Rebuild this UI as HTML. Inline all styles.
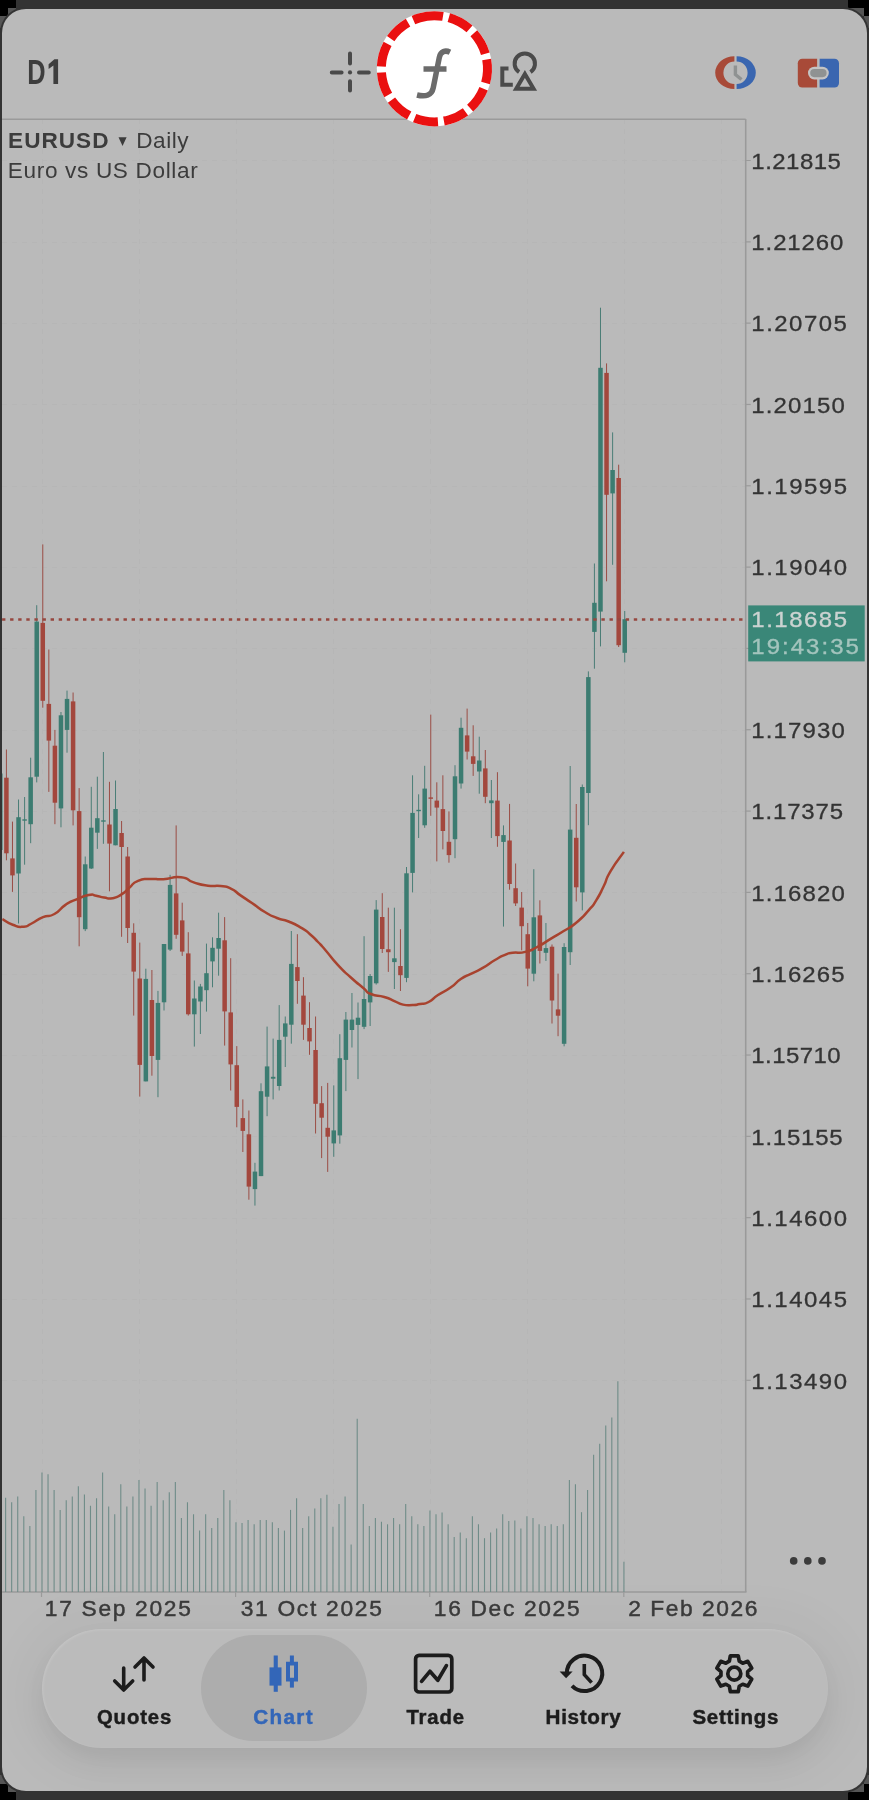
<!DOCTYPE html>
<html><head><meta charset="utf-8"><title>Chart</title>
<style>
html,body{margin:0;padding:0;background:#000;}
body{width:869px;height:1800px;position:relative;overflow:hidden;font-family:"Liberation Sans",sans-serif;}
.frame{position:absolute;left:0;top:0;width:869px;height:1800px;background:#333;}
.k{position:absolute;background:#000;}
.g{position:absolute;background:#555;}
.screen{position:absolute;left:2.1px;top:8.8px;width:864.7px;height:1781.8px;background:#bababa;border-radius:24px;overflow:hidden;box-shadow:0 0 0 2px #333;}
.tabbar{position:absolute;left:39.9px;top:1620.2px;width:786px;height:119px;border-radius:60px;background:#bbbbbb;box-shadow:0 14px 28px -2px rgba(0,0,0,0.08),0 6px 50px 22px rgba(0,0,0,0.03),inset 1px 1px 3px rgba(255,255,255,0.15);}
.pill{position:absolute;left:198.9px;top:1626.2px;width:166px;height:106px;border-radius:53px;background:#adadad;}
svg{position:absolute;left:0;top:0;will-change:transform;}
text{font-family:"Liberation Sans",sans-serif;}
</style></head><body>
<div class="frame"></div>
<div class="k" style="left:0;top:0;width:16px;height:8px"></div><div class="k" style="left:0;top:8px;width:8px;height:8px"></div>
<div class="g" style="left:8px;top:8px;width:8px;height:8px"></div><div class="g" style="left:0;top:16px;width:7px;height:12px"></div>
<div class="k" style="left:848px;top:0;width:21px;height:8px"></div><div class="k" style="left:864px;top:8px;width:5px;height:8px"></div>
<div class="g" style="left:848px;top:8px;width:16px;height:8px"></div><div class="g" style="left:864px;top:16px;width:5px;height:12px"></div>
<div class="k" style="left:0;top:1792px;width:16px;height:8px"></div><div class="k" style="left:0;top:1784px;width:8px;height:8px"></div>
<div class="g" style="left:8px;top:1784px;width:8px;height:8px"></div><div class="g" style="left:0;top:1775px;width:7px;height:9px"></div>
<div class="k" style="left:848px;top:1792px;width:21px;height:8px"></div><div class="k" style="left:864px;top:1784px;width:5px;height:8px"></div>
<div class="g" style="left:848px;top:1784px;width:16px;height:8px"></div><div class="g" style="left:864px;top:1775px;width:5px;height:9px"></div>
<div class="screen"><div class="tabbar"></div><div class="pill"></div></div>
<svg width="869" height="1800" viewBox="0 0 869 1800">

<defs><clipPath id="scr"><rect x="2.1" y="8.8" width="864.7" height="1781.8" rx="24"/></clipPath>
<clipPath id="plot"><rect x="2" y="119" width="744" height="1473"/></clipPath></defs>
<g clip-path="url(#scr)">
<g stroke="#b6b6b6" stroke-width="1" stroke-dasharray="5 5" fill="none">
<path d="M2 160.5 H745"/>
<path d="M2 242.5 H745"/>
<path d="M2 323.5 H745"/>
<path d="M2 404.5 H745"/>
<path d="M2 486.5 H745"/>
<path d="M2 567.5 H745"/>
<path d="M2 648.5 H745"/>
<path d="M2 730.5 H745"/>
<path d="M2 811.5 H745"/>
<path d="M2 892.5 H745"/>
<path d="M2 974.5 H745"/>
<path d="M2 1055.5 H745"/>
<path d="M2 1136.5 H745"/>
<path d="M2 1218.5 H745"/>
<path d="M2 1299.5 H745"/>
<path d="M2 1380.5 H745"/>
<path d="M42.5 119 V1592"/>
<path d="M139.5 119 V1592"/>
<path d="M236.5 119 V1592"/>
<path d="M333.5 119 V1592"/>
<path d="M430.5 119 V1592"/>
<path d="M527.5 119 V1592"/>
<path d="M624.5 119 V1592"/>
<path d="M721.5 119 V1592"/>
</g>
<g stroke="#9a9a9a" stroke-width="1.6" fill="none">
<path d="M2 119.3 H745.7"/>
<path d="M745.7 119 V1592"/>
<path d="M2 1592 H746.5"/>
</g>
<g stroke="#9a9a9a" stroke-width="1.2" fill="none">
<path d="M745.7 160.5 h5"/>
<path d="M745.7 241.82 h5"/>
<path d="M745.7 323.14 h5"/>
<path d="M745.7 404.46 h5"/>
<path d="M745.7 485.78 h5"/>
<path d="M745.7 567.1 h5"/>
<path d="M745.7 648.42 h5"/>
<path d="M745.7 729.74 h5"/>
<path d="M745.7 811.06 h5"/>
<path d="M745.7 892.38 h5"/>
<path d="M745.7 973.7 h5"/>
<path d="M745.7 1055.02 h5"/>
<path d="M745.7 1136.34 h5"/>
<path d="M745.7 1217.66 h5"/>
<path d="M745.7 1298.98 h5"/>
<path d="M745.7 1380.3 h5"/>
<path d="M41.5 1592 v5"/>
<path d="M235.6 1592 v5"/>
<path d="M429.7 1592 v5"/>
<path d="M623.8 1592 v5"/>
</g>
<g stroke="#6f8c88" stroke-width="1.1" fill="none" clip-path="url(#plot)">
<path d="M5.61 1497.7 V1592"/>
<path d="M11.67 1502.3 V1592"/>
<path d="M17.73 1496.5 V1592"/>
<path d="M23.8 1516.2 V1592"/>
<path d="M29.86 1526 V1592"/>
<path d="M35.92 1490 V1592"/>
<path d="M41.98 1472.4 V1592"/>
<path d="M48.04 1474.2 V1592"/>
<path d="M54.11 1490 V1592"/>
<path d="M60.17 1509.9 V1592"/>
<path d="M66.23 1500.3 V1592"/>
<path d="M72.29 1496.5 V1592"/>
<path d="M78.35 1486.3 V1592"/>
<path d="M84.42 1494.4 V1592"/>
<path d="M90.48 1505.8 V1592"/>
<path d="M96.54 1498.2 V1592"/>
<path d="M102.6 1472.4 V1592"/>
<path d="M108.66 1506.6 V1592"/>
<path d="M114.73 1514.2 V1592"/>
<path d="M120.79 1484.3 V1592"/>
<path d="M126.85 1506.6 V1592"/>
<path d="M132.91 1496.5 V1592"/>
<path d="M138.97 1480 V1592"/>
<path d="M145.04 1488.4 V1592"/>
<path d="M151.1 1505.8 V1592"/>
<path d="M157.16 1482 V1592"/>
<path d="M163.22 1500.3 V1592"/>
<path d="M169.28 1492.2 V1592"/>
<path d="M175.35 1482 V1592"/>
<path d="M181.41 1518 V1592"/>
<path d="M187.47 1502.3 V1592"/>
<path d="M193.53 1514.2 V1592"/>
<path d="M199.59 1530.6 V1592"/>
<path d="M205.66 1514.2 V1592"/>
<path d="M211.72 1528.1 V1592"/>
<path d="M217.78 1518 V1592"/>
<path d="M223.84 1490.1 V1592"/>
<path d="M229.9 1500.3 V1592"/>
<path d="M235.97 1522.3 V1592"/>
<path d="M242.03 1523 V1592"/>
<path d="M248.09 1520 V1592"/>
<path d="M254.15 1524.3 V1592"/>
<path d="M260.21 1520 V1592"/>
<path d="M266.28 1520 V1592"/>
<path d="M272.34 1522.3 V1592"/>
<path d="M278.4 1528.1 V1592"/>
<path d="M284.46 1530.6 V1592"/>
<path d="M290.52 1509.9 V1592"/>
<path d="M296.59 1498.2 V1592"/>
<path d="M302.65 1528.1 V1592"/>
<path d="M308.71 1516.2 V1592"/>
<path d="M314.77 1508.4 V1592"/>
<path d="M320.83 1498.2 V1592"/>
<path d="M326.9 1494.7 V1592"/>
<path d="M332.96 1526.8 V1592"/>
<path d="M339.02 1504 V1592"/>
<path d="M345.08 1496.5 V1592"/>
<path d="M351.14 1544.6 V1592"/>
<path d="M357.21 1418.7 V1592"/>
<path d="M363.27 1504 V1592"/>
<path d="M369.33 1526 V1592"/>
<path d="M375.39 1518 V1592"/>
<path d="M381.45 1521.8 V1592"/>
<path d="M387.52 1524.3 V1592"/>
<path d="M393.58 1518 V1592"/>
<path d="M399.64 1524.3 V1592"/>
<path d="M405.7 1504 V1592"/>
<path d="M411.76 1516.2 V1592"/>
<path d="M417.83 1524.3 V1592"/>
<path d="M423.89 1526 V1592"/>
<path d="M429.95 1510.4 V1592"/>
<path d="M436.01 1514.2 V1592"/>
<path d="M442.07 1512.4 V1592"/>
<path d="M448.14 1524.3 V1592"/>
<path d="M454.2 1537 V1592"/>
<path d="M460.26 1532.4 V1592"/>
<path d="M466.32 1538.2 V1592"/>
<path d="M472.38 1516.2 V1592"/>
<path d="M478.45 1524.3 V1592"/>
<path d="M484.51 1538.2 V1592"/>
<path d="M490.57 1532.4 V1592"/>
<path d="M496.63 1528.6 V1592"/>
<path d="M502.69 1514.2 V1592"/>
<path d="M508.76 1521 V1592"/>
<path d="M514.82 1520.5 V1592"/>
<path d="M520.88 1528.6 V1592"/>
<path d="M526.94 1516.2 V1592"/>
<path d="M533 1518 V1592"/>
<path d="M539.07 1524.3 V1592"/>
<path d="M545.13 1526 V1592"/>
<path d="M551.19 1524.3 V1592"/>
<path d="M557.25 1526 V1592"/>
<path d="M563.31 1524.3 V1592"/>
<path d="M569.38 1480 V1592"/>
<path d="M575.44 1484.3 V1592"/>
<path d="M581.5 1512.2 V1592"/>
<path d="M587.56 1490.1 V1592"/>
<path d="M593.62 1454.7 V1592"/>
<path d="M599.69 1443.8 V1592"/>
<path d="M605.75 1425.6 V1592"/>
<path d="M611.81 1417.5 V1592"/>
<path d="M617.87 1381.3 V1592"/>
<path d="M623.93 1561.8 V1592"/>
</g>
<g clip-path="url(#plot)">
<path d="M0.35 765 V856" stroke="#4a7d76" stroke-width="1"/>
<rect x="-1.9" y="773.5" width="4.5" height="76.5" fill="#3c7c71"/>
<path d="M6.41 749.5 V860.3" stroke="#9a4d45" stroke-width="1"/>
<rect x="4.16" y="777.7" width="4.5" height="75.6" fill="#a3473d"/>
<path d="M12.47 821.6 V891.9" stroke="#9a4d45" stroke-width="1"/>
<rect x="10.22" y="858.4" width="4.5" height="17" fill="#a3473d"/>
<path d="M18.53 799.5 V923.5" stroke="#4a7d76" stroke-width="1"/>
<rect x="16.28" y="817.2" width="4.5" height="56.3" fill="#3c7c71"/>
<path d="M24.6 797 V864.7" stroke="#4a7d76" stroke-width="1"/>
<rect x="22.35" y="819.3" width="4.5" height="1.4" fill="#3c7c71"/>
<path d="M30.66 757.7 V843.2" stroke="#4a7d76" stroke-width="1"/>
<rect x="28.41" y="777.3" width="4.5" height="46.9" fill="#3c7c71"/>
<path d="M36.72 605.2 V782.4" stroke="#4a7d76" stroke-width="1"/>
<rect x="34.47" y="621.6" width="4.5" height="155.1" fill="#3c7c71"/>
<path d="M42.78 544.4 V707.7" stroke="#9a4d45" stroke-width="1"/>
<rect x="40.53" y="622.9" width="4.5" height="77.9" fill="#a3473d"/>
<path d="M48.84 649.5 V791.9" stroke="#9a4d45" stroke-width="1"/>
<rect x="46.59" y="703.9" width="4.5" height="36.7" fill="#a3473d"/>
<path d="M54.91 729.9 V824.2" stroke="#9a4d45" stroke-width="1"/>
<rect x="52.66" y="745.7" width="4.5" height="57" fill="#a3473d"/>
<path d="M60.97 712 V827.3" stroke="#4a7d76" stroke-width="1"/>
<rect x="58.72" y="715.3" width="4.5" height="93.1" fill="#3c7c71"/>
<path d="M67.03 690.6 V752.7" stroke="#4a7d76" stroke-width="1"/>
<rect x="64.78" y="698.9" width="4.5" height="31" fill="#3c7c71"/>
<path d="M73.09 692.5 V825.4" stroke="#9a4d45" stroke-width="1"/>
<rect x="70.84" y="701.4" width="4.5" height="108.9" fill="#a3473d"/>
<path d="M79.15 788.1 V946.3" stroke="#9a4d45" stroke-width="1"/>
<rect x="76.9" y="811.1" width="4.5" height="106.1" fill="#a3473d"/>
<path d="M85.22 856.5 V931.1" stroke="#4a7d76" stroke-width="1"/>
<rect x="82.97" y="864.3" width="4.5" height="64.9" fill="#3c7c71"/>
<path d="M91.28 786.8 V869" stroke="#4a7d76" stroke-width="1"/>
<rect x="89.03" y="827.7" width="4.5" height="40.8" fill="#3c7c71"/>
<path d="M97.34 776.7 V848.9" stroke="#4a7d76" stroke-width="1"/>
<rect x="95.09" y="818.2" width="4.5" height="14.5" fill="#3c7c71"/>
<path d="M103.4 752 V843.8" stroke="#4a7d76" stroke-width="1"/>
<rect x="101.15" y="820.3" width="4.5" height="1.4" fill="#3c7c71"/>
<path d="M109.46 781.8 V891.3" stroke="#9a4d45" stroke-width="1"/>
<rect x="107.21" y="824.5" width="4.5" height="19.1" fill="#a3473d"/>
<path d="M115.53 780.5 V845.3" stroke="#4a7d76" stroke-width="1"/>
<rect x="113.28" y="809" width="4.5" height="36.3" fill="#3c7c71"/>
<path d="M121.59 821 V936.8" stroke="#9a4d45" stroke-width="1"/>
<rect x="119.34" y="833" width="4.5" height="14" fill="#a3473d"/>
<path d="M127.65 847 V943" stroke="#9a4d45" stroke-width="1"/>
<rect x="125.4" y="856.5" width="4.5" height="71.5" fill="#a3473d"/>
<path d="M133.71 923.3 V1015.6" stroke="#9a4d45" stroke-width="1"/>
<rect x="131.46" y="932.8" width="4.5" height="38.8" fill="#a3473d"/>
<path d="M139.77 942.6 V1096.6" stroke="#9a4d45" stroke-width="1"/>
<rect x="137.52" y="978.5" width="4.5" height="86.4" fill="#a3473d"/>
<path d="M145.84 968.7 V1081.4" stroke="#4a7d76" stroke-width="1"/>
<rect x="143.59" y="978.9" width="4.5" height="102.5" fill="#3c7c71"/>
<path d="M151.9 970 V1075.7" stroke="#9a4d45" stroke-width="1"/>
<rect x="149.65" y="1000" width="4.5" height="56" fill="#a3473d"/>
<path d="M157.96 990.9 V1097.2" stroke="#4a7d76" stroke-width="1"/>
<rect x="155.71" y="1002.9" width="4.5" height="57" fill="#3c7c71"/>
<path d="M164.02 944 V1010.5" stroke="#4a7d76" stroke-width="1"/>
<rect x="161.77" y="944" width="4.5" height="58.3" fill="#3c7c71"/>
<path d="M170.08 874.8 V951" stroke="#4a7d76" stroke-width="1"/>
<rect x="167.83" y="884.9" width="4.5" height="64.7" fill="#3c7c71"/>
<path d="M176.15 825.4 V938.8" stroke="#9a4d45" stroke-width="1"/>
<rect x="173.9" y="893.4" width="4.5" height="41.4" fill="#a3473d"/>
<path d="M182.21 902.7 V955.9" stroke="#9a4d45" stroke-width="1"/>
<rect x="179.96" y="920.4" width="4.5" height="31.2" fill="#a3473d"/>
<path d="M188.27 932.2 V1015.6" stroke="#9a4d45" stroke-width="1"/>
<rect x="186.02" y="953.4" width="4.5" height="60.9" fill="#a3473d"/>
<path d="M194.33 980.5 V1046.6" stroke="#4a7d76" stroke-width="1"/>
<rect x="192.08" y="998.5" width="4.5" height="15.8" fill="#3c7c71"/>
<path d="M200.39 983.9 V1034" stroke="#4a7d76" stroke-width="1"/>
<rect x="198.14" y="986.5" width="4.5" height="15" fill="#3c7c71"/>
<path d="M206.46 943.6 V1011.6" stroke="#4a7d76" stroke-width="1"/>
<rect x="204.21" y="973.2" width="4.5" height="17" fill="#3c7c71"/>
<path d="M212.52 937.3 V987.3" stroke="#4a7d76" stroke-width="1"/>
<rect x="210.27" y="947.8" width="4.5" height="13.6" fill="#3c7c71"/>
<path d="M218.58 912.7 V975.7" stroke="#4a7d76" stroke-width="1"/>
<rect x="216.33" y="938" width="4.5" height="10.7" fill="#3c7c71"/>
<path d="M224.64 917.1 V1045.6" stroke="#9a4d45" stroke-width="1"/>
<rect x="222.39" y="940.3" width="4.5" height="71.1" fill="#a3473d"/>
<path d="M230.7 958.2 V1090.5" stroke="#9a4d45" stroke-width="1"/>
<rect x="228.45" y="1012.4" width="4.5" height="52" fill="#a3473d"/>
<path d="M236.77 1046.1 V1127.3" stroke="#9a4d45" stroke-width="1"/>
<rect x="234.52" y="1065.2" width="4.5" height="41.7" fill="#a3473d"/>
<path d="M242.83 1099.4 V1152" stroke="#9a4d45" stroke-width="1"/>
<rect x="240.58" y="1118.1" width="4.5" height="12.8" fill="#a3473d"/>
<path d="M248.89 1110.5 V1199.7" stroke="#9a4d45" stroke-width="1"/>
<rect x="246.64" y="1134.3" width="4.5" height="52.3" fill="#a3473d"/>
<path d="M254.95 1162.8 V1205.6" stroke="#4a7d76" stroke-width="1"/>
<rect x="252.7" y="1171.6" width="4.5" height="17.5" fill="#3c7c71"/>
<path d="M261.01 1083.3 V1176.1" stroke="#4a7d76" stroke-width="1"/>
<rect x="258.76" y="1091.2" width="4.5" height="84.9" fill="#3c7c71"/>
<path d="M267.08 1026.6 V1116.2" stroke="#4a7d76" stroke-width="1"/>
<rect x="264.83" y="1066.4" width="4.5" height="30.3" fill="#3c7c71"/>
<path d="M273.14 1038.6 V1099.4" stroke="#4a7d76" stroke-width="1"/>
<rect x="270.89" y="1076.8" width="4.5" height="1.9" fill="#3c7c71"/>
<path d="M279.2 1005.1 V1090.5" stroke="#4a7d76" stroke-width="1"/>
<rect x="276.95" y="1039.9" width="4.5" height="46.1" fill="#3c7c71"/>
<path d="M285.26 1016.5 V1067" stroke="#4a7d76" stroke-width="1"/>
<rect x="283.01" y="1023.4" width="4.5" height="13.3" fill="#3c7c71"/>
<path d="M291.32 931 V1043.7" stroke="#4a7d76" stroke-width="1"/>
<rect x="289.07" y="963.9" width="4.5" height="60.8" fill="#3c7c71"/>
<path d="M297.39 934.2 V1003.8" stroke="#9a4d45" stroke-width="1"/>
<rect x="295.14" y="967.1" width="4.5" height="13.9" fill="#a3473d"/>
<path d="M303.45 977.2 V1039.9" stroke="#9a4d45" stroke-width="1"/>
<rect x="301.2" y="995.6" width="4.5" height="29.1" fill="#a3473d"/>
<path d="M309.51 1002.2 V1054.8" stroke="#9a4d45" stroke-width="1"/>
<rect x="307.26" y="1028" width="4.5" height="13.4" fill="#a3473d"/>
<path d="M315.57 1016.5 V1133.5" stroke="#9a4d45" stroke-width="1"/>
<rect x="313.32" y="1050" width="4.5" height="53.8" fill="#a3473d"/>
<path d="M321.63 1086.1 V1158.1" stroke="#9a4d45" stroke-width="1"/>
<rect x="319.38" y="1103.2" width="4.5" height="14.5" fill="#a3473d"/>
<path d="M327.7 1082.9 V1171.9" stroke="#9a4d45" stroke-width="1"/>
<rect x="325.45" y="1127.8" width="4.5" height="8.9" fill="#a3473d"/>
<path d="M333.76 1085.4 V1156.8" stroke="#4a7d76" stroke-width="1"/>
<rect x="331.51" y="1130.4" width="4.5" height="13" fill="#3c7c71"/>
<path d="M339.82 1034.2 V1143.7" stroke="#4a7d76" stroke-width="1"/>
<rect x="337.57" y="1058.2" width="4.5" height="77.2" fill="#3c7c71"/>
<path d="M345.88 1012 V1091.1" stroke="#4a7d76" stroke-width="1"/>
<rect x="343.63" y="1019.6" width="4.5" height="40.3" fill="#3c7c71"/>
<path d="M351.94 993 V1047.5" stroke="#4a7d76" stroke-width="1"/>
<rect x="349.69" y="1019.6" width="4.5" height="10.4" fill="#3c7c71"/>
<path d="M358.01 1002.5 V1079.1" stroke="#4a7d76" stroke-width="1"/>
<rect x="355.76" y="1017.7" width="4.5" height="7.2" fill="#3c7c71"/>
<path d="M364.07 936.2 V1029.1" stroke="#4a7d76" stroke-width="1"/>
<rect x="361.82" y="999" width="4.5" height="27.8" fill="#3c7c71"/>
<path d="M370.13 974 V1026" stroke="#4a7d76" stroke-width="1"/>
<rect x="367.88" y="976" width="4.5" height="26.4" fill="#3c7c71"/>
<path d="M376.19 900.1 V984.6" stroke="#4a7d76" stroke-width="1"/>
<rect x="373.94" y="909.6" width="4.5" height="73.7" fill="#3c7c71"/>
<path d="M382.25 893.2 V953" stroke="#9a4d45" stroke-width="1"/>
<rect x="380" y="917" width="4.5" height="32" fill="#a3473d"/>
<path d="M388.32 907.7 V971.9" stroke="#9a4d45" stroke-width="1"/>
<rect x="386.07" y="949.3" width="4.5" height="2.9" fill="#a3473d"/>
<path d="M394.38 907.7 V989" stroke="#4a7d76" stroke-width="1"/>
<rect x="392.13" y="958.3" width="4.5" height="3.8" fill="#3c7c71"/>
<path d="M400.44 929.2 V991" stroke="#9a4d45" stroke-width="1"/>
<rect x="398.19" y="966" width="4.5" height="9.2" fill="#a3473d"/>
<path d="M406.5 867 V982.2" stroke="#4a7d76" stroke-width="1"/>
<rect x="404.25" y="873.3" width="4.5" height="104.6" fill="#3c7c71"/>
<path d="M412.56 775.3 V892.4" stroke="#4a7d76" stroke-width="1"/>
<rect x="410.31" y="812.9" width="4.5" height="60" fill="#3c7c71"/>
<path d="M418.63 794.3 V838" stroke="#4a7d76" stroke-width="1"/>
<rect x="416.38" y="809.8" width="4.5" height="1.4" fill="#3c7c71"/>
<path d="M424.69 765.8 V827.8" stroke="#4a7d76" stroke-width="1"/>
<rect x="422.44" y="788.6" width="4.5" height="36.7" fill="#3c7c71"/>
<path d="M430.75 714.6 V815.8" stroke="#9a4d45" stroke-width="1"/>
<rect x="428.5" y="797.4" width="4.5" height="1.4" fill="#a3473d"/>
<path d="M436.81 782.3 V861.4" stroke="#9a4d45" stroke-width="1"/>
<rect x="434.56" y="800.6" width="4.5" height="7" fill="#a3473d"/>
<path d="M442.87 775.3 V849.4" stroke="#9a4d45" stroke-width="1"/>
<rect x="440.62" y="809.1" width="4.5" height="21.9" fill="#a3473d"/>
<path d="M448.94 811.4 V862.7" stroke="#9a4d45" stroke-width="1"/>
<rect x="446.69" y="841.8" width="4.5" height="13.3" fill="#a3473d"/>
<path d="M455 765.2 V858.2" stroke="#4a7d76" stroke-width="1"/>
<rect x="452.75" y="776.3" width="4.5" height="62.9" fill="#3c7c71"/>
<path d="M461.06 717.7 V788.6" stroke="#4a7d76" stroke-width="1"/>
<rect x="458.81" y="727.8" width="4.5" height="55.7" fill="#3c7c71"/>
<path d="M467.12 708.6 V759.5" stroke="#9a4d45" stroke-width="1"/>
<rect x="464.87" y="735.4" width="4.5" height="16.2" fill="#a3473d"/>
<path d="M473.18 725.3 V775.9" stroke="#9a4d45" stroke-width="1"/>
<rect x="470.93" y="756.3" width="4.5" height="7.6" fill="#a3473d"/>
<path d="M479.25 736.7 V793.7" stroke="#4a7d76" stroke-width="1"/>
<rect x="477" y="760.5" width="4.5" height="11" fill="#3c7c71"/>
<path d="M485.31 750 V803.2" stroke="#9a4d45" stroke-width="1"/>
<rect x="483.06" y="768.4" width="4.5" height="28.4" fill="#a3473d"/>
<path d="M491.37 780 V838" stroke="#4a7d76" stroke-width="1"/>
<rect x="489.12" y="800.4" width="4.5" height="2.8" fill="#3c7c71"/>
<path d="M497.43 772.2 V846.8" stroke="#9a4d45" stroke-width="1"/>
<rect x="495.18" y="800.6" width="4.5" height="35.5" fill="#a3473d"/>
<path d="M503.49 825.4 V926.6" stroke="#4a7d76" stroke-width="1"/>
<rect x="501.24" y="835.1" width="4.5" height="6.8" fill="#3c7c71"/>
<path d="M509.56 803.9 V889.7" stroke="#9a4d45" stroke-width="1"/>
<rect x="507.31" y="840.5" width="4.5" height="43.5" fill="#a3473d"/>
<path d="M515.62 863.5 V906" stroke="#9a4d45" stroke-width="1"/>
<rect x="513.37" y="888.2" width="4.5" height="15.2" fill="#a3473d"/>
<path d="M521.68 892 V950.3" stroke="#9a4d45" stroke-width="1"/>
<rect x="519.43" y="907.6" width="4.5" height="18.6" fill="#a3473d"/>
<path d="M527.74 923 V986.3" stroke="#9a4d45" stroke-width="1"/>
<rect x="525.49" y="934.2" width="4.5" height="34.4" fill="#a3473d"/>
<path d="M533.8 869.2 V981.3" stroke="#4a7d76" stroke-width="1"/>
<rect x="531.55" y="917.3" width="4.5" height="56.4" fill="#3c7c71"/>
<path d="M539.87 900.3 V963.5" stroke="#9a4d45" stroke-width="1"/>
<rect x="537.62" y="915.4" width="4.5" height="35.5" fill="#a3473d"/>
<path d="M545.93 923 V961" stroke="#4a7d76" stroke-width="1"/>
<rect x="543.68" y="948.1" width="4.5" height="4.7" fill="#3c7c71"/>
<path d="M551.99 944.5 V1023.5" stroke="#9a4d45" stroke-width="1"/>
<rect x="549.74" y="946.7" width="4.5" height="53.8" fill="#a3473d"/>
<path d="M558.05 973.6 V1036.2" stroke="#9a4d45" stroke-width="1"/>
<rect x="555.8" y="1009.4" width="4.5" height="6.3" fill="#a3473d"/>
<path d="M564.11 943.2 V1046.3" stroke="#4a7d76" stroke-width="1"/>
<rect x="561.86" y="947" width="4.5" height="96.8" fill="#3c7c71"/>
<path d="M570.18 766 V965" stroke="#4a7d76" stroke-width="1"/>
<rect x="567.93" y="829.6" width="4.5" height="122.6" fill="#3c7c71"/>
<path d="M576.24 804 V901.5" stroke="#9a4d45" stroke-width="1"/>
<rect x="573.99" y="837.8" width="4.5" height="49.5" fill="#a3473d"/>
<path d="M582.3 784.5 V910.4" stroke="#4a7d76" stroke-width="1"/>
<rect x="580.05" y="787" width="4.5" height="105.4" fill="#3c7c71"/>
<path d="M588.36 671.4 V825.2" stroke="#4a7d76" stroke-width="1"/>
<rect x="586.11" y="677.1" width="4.5" height="115.9" fill="#3c7c71"/>
<path d="M594.42 563.5 V668.7" stroke="#4a7d76" stroke-width="1"/>
<rect x="592.17" y="602.8" width="4.5" height="29.1" fill="#3c7c71"/>
<path d="M600.49 307.7 V646.4" stroke="#4a7d76" stroke-width="1"/>
<rect x="598.24" y="367.8" width="4.5" height="243.8" fill="#3c7c71"/>
<path d="M606.55 363.4 V581.3" stroke="#9a4d45" stroke-width="1"/>
<rect x="604.3" y="372.9" width="4.5" height="121.9" fill="#a3473d"/>
<path d="M612.61 432.4 V564.8" stroke="#4a7d76" stroke-width="1"/>
<rect x="610.36" y="470" width="4.5" height="23.4" fill="#3c7c71"/>
<path d="M618.67 464.7 V647" stroke="#9a4d45" stroke-width="1"/>
<rect x="616.42" y="478" width="4.5" height="167.2" fill="#a3473d"/>
<path d="M624.73 611 V662.3" stroke="#4a7d76" stroke-width="1"/>
<rect x="622.48" y="619.2" width="4.5" height="33.6" fill="#3c7c71"/>
</g>
<path d="M2.3 919.1 C5.77 921 5.67 922.27 12.7 924.8 C19.73 927.33 17.1 927.13 23.4 926.7 C29.7 926.27 25.07 926.67 31.6 923.5 C38.13 920.33 35.4 920.37 43 917.2 C50.6 914.03 46.8 918.2 54.4 914 C62 909.8 58.63 909.37 65.8 904.6 C72.97 899.83 68.3 902.9 75.9 899.7 C83.5 896.5 81.83 896.33 88.6 895 C95.37 893.67 91.07 894.83 96.2 895.7 C101.33 896.57 98.5 896.77 104 897.6 C109.5 898.43 106.87 899.27 112.7 898.2 C118.53 897.13 116.07 897.77 121.5 894.4 C126.93 891.03 123.5 892.63 129 888.1 C134.5 883.57 130.8 883.83 138 880.8 C145.2 877.77 142.17 879.53 150.6 879 C159.03 878.47 153.17 879.77 163.3 879.2 C173.43 878.63 170.87 876.23 181 877.3 C191.13 878.37 184.7 879.6 193.7 882.4 C202.7 885.2 199.03 884.47 208 885.7 C216.97 886.93 213 885.13 220.6 886.1 C228.2 887.07 224.03 885.43 230.8 888.6 C237.57 891.77 233.73 890.73 240.9 895.6 C248.07 900.47 244.3 897.73 252.3 903.2 C260.3 908.67 256.67 907.07 264.9 912 C273.13 916.93 269.1 914.83 277 918 C284.9 921.17 280.5 918.23 288.6 921.5 C296.7 924.77 294.17 923.57 301.3 927.8 C308.43 932.03 304.43 929.47 310 934.2 C315.57 938.93 312.9 936.73 318 942 C323.1 947.27 318.63 942.27 325.3 950 C331.97 957.73 329.57 956.13 338 965.2 C346.43 974.27 342.17 969.6 350.6 977.2 C359.03 984.8 356.5 982.4 363.3 988 C370.1 993.6 364 991 371 994 C378 997 376.3 994.57 384.3 997 C392.3 999.43 388.77 998.77 395 1001.3 C401.23 1003.83 397.1 1003.37 403 1004.6 C408.9 1005.83 407.03 1005.2 412.7 1005 C418.37 1004.8 414.7 1005 420 1004 C425.3 1003 422.6 1005 428.6 1002 C434.6 999 430.67 999.8 438 995 C445.33 990.2 443 992.93 450.6 987.6 C458.2 982.27 454.03 983.57 460.8 979 C467.57 974.43 463.73 977.5 470.9 973.9 C478.07 970.3 474.27 972.83 482.3 968.2 C490.33 963.57 487.43 964.43 495 960 C502.57 955.57 499.1 957.3 505 954.9 C510.9 952.5 505.93 953.8 512.7 952.8 C519.47 951.8 516.87 954 525.3 951.9 C533.73 949.8 529.57 950.83 538 946.5 C546.43 942.17 542.17 943.97 550.6 938.9 C559.03 933.83 554.87 936.6 563.3 931.3 C571.73 926 567.47 929.97 575.9 923 C584.33 916.03 581.83 917.97 588.6 910.4 C595.37 902.83 591.13 908.43 596.2 900.3 C601.27 892.17 599 895.73 603.8 886 C608.6 876.27 603.9 882.47 610.6 871.1 C617.3 859.73 619.47 858.3 623.9 851.9" fill="none" stroke="#a8432f" stroke-width="2.5" stroke-linejoin="round" stroke-linecap="butt" clip-path="url(#plot)"/>
<path d="M2 619.4 H746" stroke="#96473f" stroke-width="2.5" stroke-dasharray="3.4 4.7" fill="none"/>
<text transform="translate(751.34 168.80) scale(1.1000 1)" font-size="21.8" font-weight="normal" fill="#343434" style="letter-spacing:0.437px" stroke="#343434" stroke-width="0.3">1.21815</text>
<text transform="translate(751.34 250.12) scale(1.1000 1)" font-size="21.8" font-weight="normal" fill="#343434" style="letter-spacing:0.816px" stroke="#343434" stroke-width="0.3">1.21260</text>
<text transform="translate(751.34 331.44) scale(1.1000 1)" font-size="21.8" font-weight="normal" fill="#343434" style="letter-spacing:1.346px" stroke="#343434" stroke-width="0.3">1.20705</text>
<text transform="translate(751.34 412.76) scale(1.1000 1)" font-size="21.8" font-weight="normal" fill="#343434" style="letter-spacing:1.028px" stroke="#343434" stroke-width="0.3">1.20150</text>
<text transform="translate(751.34 494.08) scale(1.1000 1)" font-size="21.8" font-weight="normal" fill="#343434" style="letter-spacing:1.361px" stroke="#343434" stroke-width="0.3">1.19595</text>
<text transform="translate(751.34 575.40) scale(1.1000 1)" font-size="21.8" font-weight="normal" fill="#343434" style="letter-spacing:1.361px" stroke="#343434" stroke-width="0.3">1.19040</text>
<text transform="translate(751.34 738.04) scale(1.1000 1)" font-size="21.8" font-weight="normal" fill="#343434" style="letter-spacing:1.028px" stroke="#343434" stroke-width="0.3">1.17930</text>
<text transform="translate(751.34 819.36) scale(1.1000 1)" font-size="21.8" font-weight="normal" fill="#343434" style="letter-spacing:0.755px" stroke="#343434" stroke-width="0.3">1.17375</text>
<text transform="translate(751.34 900.68) scale(1.1000 1)" font-size="21.8" font-weight="normal" fill="#343434" style="letter-spacing:1.028px" stroke="#343434" stroke-width="0.3">1.16820</text>
<text transform="translate(751.34 982.00) scale(1.1000 1)" font-size="21.8" font-weight="normal" fill="#343434" style="letter-spacing:0.983px" stroke="#343434" stroke-width="0.3">1.16265</text>
<text transform="translate(751.34 1063.32) scale(1.1000 1)" font-size="21.8" font-weight="normal" fill="#343434" style="letter-spacing:0.407px" stroke="#343434" stroke-width="0.3">1.15710</text>
<text transform="translate(751.34 1144.64) scale(1.1000 1)" font-size="21.8" font-weight="normal" fill="#343434" style="letter-spacing:0.695px" stroke="#343434" stroke-width="0.3">1.15155</text>
<text transform="translate(751.34 1225.96) scale(1.1000 1)" font-size="21.8" font-weight="normal" fill="#343434" style="letter-spacing:1.361px" stroke="#343434" stroke-width="0.3">1.14600</text>
<text transform="translate(751.34 1307.28) scale(1.1000 1)" font-size="21.8" font-weight="normal" fill="#343434" style="letter-spacing:1.361px" stroke="#343434" stroke-width="0.3">1.14045</text>
<text transform="translate(751.34 1388.60) scale(1.1000 1)" font-size="21.8" font-weight="normal" fill="#343434" style="letter-spacing:1.361px" stroke="#343434" stroke-width="0.3">1.13490</text>
<rect x="748.2" y="605.4" width="116.5" height="56" fill="#3a8778"/>
<text transform="translate(751.34 627.40) scale(1.1000 1)" font-size="21.8" font-weight="normal" fill="#cbd3d1" style="letter-spacing:1.361px" stroke="#cbd3d1" stroke-width="0.35">1.18685</text>
<text transform="translate(751.34 653.60) scale(1.1000 1)" font-size="21.8" font-weight="normal" fill="#a3c4bd" style="letter-spacing:1.847px" stroke="#a3c4bd" stroke-width="0.35">19:43:35</text>
<circle cx="793.7" cy="1560.9" r="3.8" fill="#3c3c3c"/>
<circle cx="807.8" cy="1560.9" r="3.8" fill="#3c3c3c"/>
<circle cx="822" cy="1560.9" r="3.8" fill="#3c3c3c"/>
<text transform="translate(27.22 84.20) scale(0.7200 1)" font-size="35.2" font-weight="bold" fill="#3e3e3e" style="letter-spacing:-0.472px" >D</text>
<path d="M58.1 59.3 V84.1 H53.4 V65.6 L48.6 69 V64.2 L54.4 59.3 Z" fill="#3e3e3e"/>
<g stroke="#4a4a4a" stroke-width="4" stroke-linecap="round" fill="none">
<path d="M350 53.6 V63.4 M350 81.3 V90.6 M331.8 72.4 H341.6 M359 72.4 H368.8"/>
</g><circle cx="350" cy="72.4" r="2.1" fill="#4a4a4a"/>
<circle cx="434.4" cy="68.8" r="57.6" fill="#ffffff"/>
<circle cx="434.4" cy="68.8" r="53.1" fill="none" stroke="#ea1010" stroke-width="9" stroke-dasharray="23.7 5.99" transform="rotate(-106.3 434.4 68.8)"/>
<g stroke="#6b6b6b" stroke-width="5.5" fill="none" stroke-linecap="butt">
<path d="M450 52.2 C445.5 50 440.5 51 439.3 57.5 L433.2 88 C431.8 95 426 97.2 417 95"/>
<path d="M423.5 69 H446.5"/>
</g>
<g stroke="#4a4a4a" stroke-width="4" fill="none">
<path d="M530.5 72.06 A10.2 10.2 0 1 0 519.1 72.06"/>
<path d="M524.9 73.95 L533.6 88.8 H516.2 Z" stroke-linejoin="miter"/>
<path d="M508.5 68.4 H502.3 V84.8 H512.8"/>
</g>
<path d="M734.4 56.3 A19.2 16.4 0 0 0 734.4 89.1 V84 A11 11.3 0 0 1 734.4 61.4 Z" fill="#a84a38"/>
<path d="M736.6 56.3 A19.2 16.4 0 0 1 736.6 89.1 V84 A11 11.3 0 0 0 736.6 61.4 Z" fill="#3a66b0"/>
<path d="M735.4 65.5 V74.5 L741.5 79.5" stroke="#8f9292" stroke-width="3.4" fill="none"/>
<path d="M802.3 58.7 H817.1 V87.5 H802.3 A4.5 4.5 0 0 1 797.8 83 V63.2 A4.5 4.5 0 0 1 802.3 58.7 Z" fill="#a84a38"/>
<path d="M819.6 58.7 H834.5 A4.5 4.5 0 0 1 839 63.2 V83 A4.5 4.5 0 0 1 834.5 87.5 H819.6 Z" fill="#3a66b0"/>
<rect x="808" y="66.7" width="20.8" height="12.7" rx="6.3" fill="#c4c4c4"/>
<rect x="810.2" y="68.9" width="16.4" height="8.3" rx="4.1" fill="#8f9292"/>
<text transform="translate(8.10 147.90) scale(1.0000 1)" font-size="22.6" font-weight="bold" fill="#3c3c3c" style="letter-spacing:0.998px" >EURUSD</text>
<path d="M118.5 137.3 H126.6 L122.55 145.9 Z" fill="#3c3c3c"/>
<text transform="translate(136.20 147.90) scale(1.0000 1)" font-size="22.6" font-weight="normal" fill="#3c3c3c" style="letter-spacing:0.542px" >Daily</text>
<text transform="translate(7.80 177.60) scale(1.0000 1)" font-size="22.6" font-weight="normal" fill="#3c3c3c" style="letter-spacing:0.652px" >Euro vs US Dollar</text>
<g stroke="#1c1c1c" stroke-width="3.6" fill="none" stroke-linecap="round" stroke-linejoin="round">
<path d="M123.7 1668 V1689.5 M114.7 1681 L123.7 1690 L132.7 1681"/>
<path d="M144 1680 V1658.5 M135 1667 L144 1658 L153 1667"/>
</g>
<g fill="#3366b8">
<rect x="273.7" y="1655.5" width="4.1" height="36.3"/><rect x="269.5" y="1667.4" width="12" height="18.2"/>
<rect x="289.9" y="1655.5" width="4" height="7"/><rect x="289.9" y="1680.5" width="4" height="7.1"/>
<path d="M286 1661.7 H298 V1681.4 H286 Z M290 1665.4 V1677.8 H294 V1665.4 Z" fill-rule="evenodd"/>
</g>
<g stroke="#1c1c1c" stroke-width="3.7" fill="none" stroke-linecap="round" stroke-linejoin="round">
<rect x="415.6" y="1655.4" width="36.2" height="36.6" rx="3.5"/>
<path d="M421.6 1681.4 L429.9 1671.3 L437.8 1680.3 L446.4 1665.6"/>
</g>
<g stroke="#1c1c1c" stroke-width="4" fill="none">
<path d="M566.8 1673.4 A17.7 17.7 0 1 1 572.0 1685.9"/>
</g>
<path d="M559.6 1671.4 H572.6 L566.1 1678.2 Z" fill="#1c1c1c"/>
<path d="M584.3 1664 V1674.6 L591.6 1682.6" stroke="#1c1c1c" stroke-width="3.6" fill="none" stroke-linejoin="miter"/>
<path d="M729.35 1661.14 L730.34 1655.83 L738.26 1655.83 L739.25 1661.14 L742.70 1663.13 L747.79 1661.34 L751.75 1668.20 L747.65 1671.70 L747.65 1675.70 L751.75 1679.20 L747.79 1686.06 L742.70 1684.27 L739.25 1686.26 L738.26 1691.57 L730.34 1691.57 L729.35 1686.26 L725.90 1684.27 L720.81 1686.06 L716.85 1679.20 L720.95 1675.70 L720.95 1671.70 L716.85 1668.20 L720.81 1661.34 L725.90 1663.13 Z" stroke="#1c1c1c" stroke-width="3.7" fill="none" stroke-linejoin="round"/>
<circle cx="734.3" cy="1673.7" r="6.5" stroke="#1c1c1c" stroke-width="3.7" fill="none"/>
<text transform="translate(96.97 1723.50) scale(1.0400 1)" font-size="19.5" font-weight="bold" fill="#1c1c1c" style="letter-spacing:0.855px" stroke="#1c1c1c" stroke-width="0.45">Quotes</text>
<text transform="translate(253.15 1723.50) scale(1.0600 1)" font-size="19.5" font-weight="bold" fill="#3366b8" style="letter-spacing:1.315px" stroke="#3366b8" stroke-width="0.45">Chart</text>
<text transform="translate(406.39 1723.50) scale(1.0400 1)" font-size="19.5" font-weight="bold" fill="#1c1c1c" style="letter-spacing:0.883px" stroke="#1c1c1c" stroke-width="0.45">Trade</text>
<text transform="translate(545.62 1723.50) scale(1.0600 1)" font-size="19.5" font-weight="bold" fill="#1c1c1c" style="letter-spacing:0.615px" stroke="#1c1c1c" stroke-width="0.45">History</text>
<text transform="translate(692.48 1723.50) scale(1.0500 1)" font-size="19.5" font-weight="bold" fill="#1c1c1c" style="letter-spacing:0.699px" stroke="#1c1c1c" stroke-width="0.45">Settings</text>
<text transform="translate(44.80 1616.30) scale(1.0600 1)" font-size="21.5" font-weight="normal" fill="#3a3a3a" style="letter-spacing:1.589px" stroke="#3a3a3a" stroke-width="0.45">17 Sep 2025</text>
<text transform="translate(240.65 1616.30) scale(1.0600 1)" font-size="21.5" font-weight="normal" fill="#3a3a3a" style="letter-spacing:1.612px" stroke="#3a3a3a" stroke-width="0.45">31 Oct 2025</text>
<text transform="translate(433.80 1616.30) scale(1.0600 1)" font-size="21.5" font-weight="normal" fill="#3a3a3a" style="letter-spacing:1.572px" stroke="#3a3a3a" stroke-width="0.45">16 Dec 2025</text>
<text transform="translate(628.14 1616.30) scale(1.0600 1)" font-size="21.5" font-weight="normal" fill="#3a3a3a" style="letter-spacing:1.474px" stroke="#3a3a3a" stroke-width="0.45">2 Feb 2026</text>
</g>
</svg></body></html>
